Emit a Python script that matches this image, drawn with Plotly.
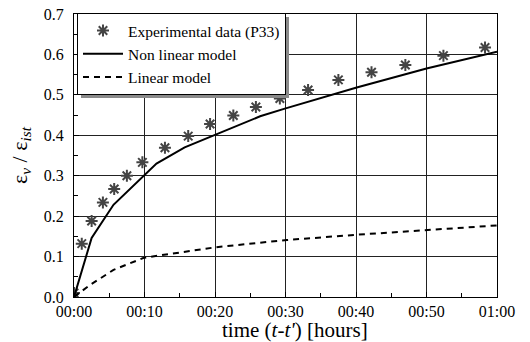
import plotly.graph_objects as go

# time in minutes
exp_t = [0.0, 1.1, 2.5, 4.1, 5.7, 7.5, 9.7, 12.9, 16.2, 19.3, 22.6, 25.8, 29.2, 33.2, 37.5, 42.2, 47.0, 52.4, 58.3]
exp_y = [0.010, 0.132, 0.188, 0.234, 0.267, 0.300, 0.333, 0.369, 0.398, 0.428, 0.449, 0.470, 0.491, 0.512, 0.537, 0.556, 0.574, 0.597, 0.617]

nl_t = [0.0, 2.5, 5.6, 9.9, 11.7, 15.7, 20.2, 26.4, 29.9, 40.1, 50.0, 60.0]
nl_y = [0.0, 0.146, 0.228, 0.300, 0.330, 0.370, 0.402, 0.447, 0.466, 0.518, 0.565, 0.607]

lin_t = [0.0, 2.3, 5.6, 9.9, 20.1, 27.8, 30.2, 40.1, 50.1, 60.0]
lin_y = [0.0, 0.030, 0.067, 0.097, 0.123, 0.137, 0.141, 0.154, 0.165, 0.177]

x_tickvals = [0, 10, 20, 30, 40, 50, 60]
x_ticktext = ["00:00", "00:10", "00:20", "00:30", "00:40", "00:50", "01:00"]
y_tickvals = [0.0, 0.1, 0.2, 0.3, 0.4, 0.5, 0.6, 0.7]

FONT = "Liberation Serif"
PW, PH = 423, 283  # plot area size in px


def px(x):
    return (x - 74) / PW


def py(y):
    return (297 - y) / PH


fig = go.Figure()
fig.add_trace(go.Scatter(
    x=exp_t, y=exp_y, mode="markers", name="Experimental data (P33)",
    marker=dict(symbol="asterisk-open", size=10, color="#444444",
                line=dict(color="#444444", width=2)),
))
fig.add_trace(go.Scatter(
    x=nl_t, y=nl_y, mode="lines", name="Non linear model",
    line=dict(color="black", width=2),
))
fig.add_trace(go.Scatter(
    x=lin_t, y=lin_y, mode="lines", name="Linear model",
    line=dict(color="black", width=2, dash="6px,5px"),
))

# legend drop shadow (legend box is drawn over it)
fig.add_shape(type="rect", xref="paper", yref="paper",
              x0=px(81), x1=px(289), y0=py(98), y1=py(17),
              fillcolor="#8a8a8a", line=dict(width=0), layer="above")

fig.add_annotation(
    text="time (<i>t</i>-<i>t'</i>) [hours]", xref="paper", yref="paper",
    x=px(295), y=py(342), xanchor="center", yanchor="bottom", yshift=-2,
    showarrow=False, font=dict(family=FONT, size=21, color="black"),
)

fig.update_layout(
    width=530, height=342,
    margin=dict(l=74, r=33, t=14, b=45),
    paper_bgcolor="white", plot_bgcolor="white",
    font=dict(family=FONT, size=16, color="black"),
    showlegend=True,
    legend=dict(
        x=px(77), y=py(13), xanchor="left", yanchor="top",
        bgcolor="white", bordercolor="black", borderwidth=1,
        font=dict(family=FONT, size=15.5, color="black"),
        itemwidth=40, tracegroupgap=0,
    ),
    xaxis=dict(
        range=[0, 60], tickmode="array", tickvals=x_tickvals, ticktext=x_ticktext,
        showgrid=True, gridcolor="#222222", gridwidth=1,
        ticks="inside", ticklen=5, tickcolor="black",
        showline=True, linecolor="black", linewidth=1.2, mirror=True,
        zeroline=False, automargin=False,
        tickfont=dict(family=FONT, size=16),
        minor=dict(tickmode="array", tickvals=[5, 15, 25, 35, 45, 55],
                   ticks="inside", ticklen=4, tickcolor="black", showgrid=False),
    ),
    yaxis=dict(
        range=[0, 0.7], tickmode="array", tickvals=y_tickvals, tickformat=".1f",
        showgrid=True, gridcolor="#222222", gridwidth=1,
        ticks="inside", ticklen=5, tickcolor="black",
        showline=True, linecolor="black", linewidth=1.2, mirror=True,
        zeroline=False, ticklabelstandoff=6, automargin=False,
        tickfont=dict(family=FONT, size=16),
        minor=dict(tickmode="array", tickvals=[0.05, 0.15, 0.25, 0.35, 0.45, 0.55, 0.65],
                   ticks="inside", ticklen=4, tickcolor="black", showgrid=False),
        title=dict(text="ε<sub><i>v</i></sub> / ε<sub><i>ist</i></sub>", standoff=10,
                   font=dict(family=FONT, size=22)),
    ),
)

fig.write_html("out.html")
